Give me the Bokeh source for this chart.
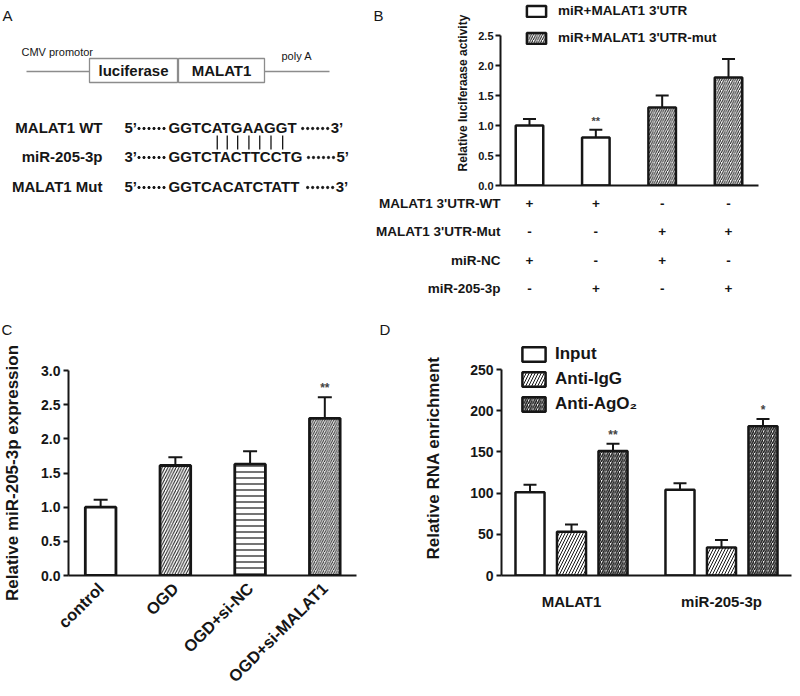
import math
from bokeh.plotting import figure
from bokeh.models import (ColumnDataSource, Range1d, Legend, LegendItem, Whisker, TeeHead,
                          FixedTicker, NumeralTickFormatter)
from bokeh.layouts import column, row
from bokeh.embed import file_html
from bokeh.resources import INLINE
from bokeh.core.properties import value

FONT = "Liberation Sans"
INK = "#161616"

# ---------------- data ----------------
# A: reporter construct and binding site
construct_parts = ["luciferase", "MALAT1"]
seq_names = ["MALAT1 WT", "miR-205-3p", "MALAT1 Mut"]
seq_head = ["5’", "3’", "5’"]
seq_core = ["GGTCATGAAGGT", "GGTCTACTTCCTG", "GGTCACATCTATT"]
seq_tail = ["3’", "5’", "3’"]
paired_positions = [5, 6, 7, 8, 9, 10, 11]   # 1-based positions of paired bases

# B: luciferase reporter assay
b_reporter = ["miR+MALAT1 3'UTR", "miR+MALAT1 3'UTR",
              "miR+MALAT1 3'UTR-mut", "miR+MALAT1 3'UTR-mut"]
b_mean = [1.00, 0.80, 1.30, 1.80]
b_sd = [0.11, 0.13, 0.20, 0.31]
b_sig = ["", "**", "", ""]
b_yticks = [0.0, 0.5, 1.0, 1.5, 2.0, 2.5]
b_rows = ["MALAT1 3'UTR-WT", "MALAT1 3'UTR-Mut", "miR-NC", "miR-205-3p"]
b_row_wt = ["+", "+", "-", "-"]
b_row_mut = ["-", "-", "+", "+"]
b_row_nc = ["+", "-", "+", "-"]
b_row_mir = ["-", "+", "-", "+"]

# C: miR-205-3p expression
c_groups = ["control", "OGD", "OGD+si-NC", "OGD+si-MALAT1"]
c_mean = [1.00, 1.61, 1.63, 2.30]
c_sd = [0.11, 0.12, 0.19, 0.31]
c_sig = ["", "", "", "**"]
c_yticks = [0.0, 0.5, 1.0, 1.5, 2.0, 2.5, 3.0]

# D: RIP assay
d_targets = ["MALAT1", "miR-205-3p"]
d_series = ["Input", "Anti-IgG", "Anti-AgO₂"]
d_input = [101, 104]
d_input_sd = [9, 8]
d_igg = [53, 34]
d_igg_sd = [9, 9]
d_ago2 = [151, 181]
d_ago2_sd = [9, 9]
d_ago2_sig = ["**", "*"]
d_yticks = [0, 50, 100, 150, 200, 250]

panel_letters = ["A", "B", "C", "D"]

# ---------------- helpers ----------------
def style_axes(p, tick_size, label_size):
    for ax in p.axis:
        ax.axis_line_width = 2
        ax.axis_line_color = INK
        ax.major_tick_line_width = 2
        ax.major_tick_line_color = INK
        ax.major_tick_out = 5
        ax.major_tick_in = 0
        ax.minor_tick_line_color = None
        ax.major_label_text_font = FONT
        ax.major_label_text_font_style = "bold"
        ax.major_label_text_font_size = tick_size
        ax.major_label_text_color = INK
        ax.axis_label_text_font = FONT
        ax.axis_label_text_font_style = "bold"
        ax.axis_label_text_font_size = label_size
        ax.axis_label_text_color = INK
    p.grid.visible = False
    p.outline_line_color = None


def add_errors(p, xs, means, sds, head):
    src = ColumnDataSource(dict(x=xs, lower=means, upper=[m + s for m, s in zip(means, sds)]))
    w = Whisker(source=src, base="x", lower="lower", upper="upper", dimension="height",
                line_color=INK, line_width=2, lower_head=None,
                upper_head=TeeHead(size=head, line_width=2, line_color=INK))
    p.add_layout(w)


def add_stars(p, xs, means, sds, sig, off, size):
    p.text(x=xs, y=[m + s + off for m, s in zip(means, sds)], text=sig,
           text_align="center", text_baseline="middle", text_font=value(FONT),
           text_font_style="bold", text_font_size=size, text_color="#444444")


def put_text(p, x, y, text, size, align="left", baseline="middle", style="bold", **kw):
    p.text(x=x, y=y, text=text, text_align=align, text_baseline=baseline,
           text_font=value(FONT), text_font_style=style, text_font_size=size,
           text_color=INK, **kw)


def blank_fig(w, h, xr, yr):
    return figure(width=w, height=h, x_range=xr, y_range=yr, output_backend="svg",
                  toolbar_location=None, x_axis_type=None, y_axis_type=None,
                  min_border=0, outline_line_color=None)

XOFF = 4   # horizontal trim of the left page edge

# ---------------- panel A (schematic, pixel coordinates) ----------------
A_RIGHT, A_H = 392, 194
A_W = A_RIGHT - XOFF
pa = blank_fig(A_W, A_H, Range1d(XOFF, A_RIGHT), Range1d(A_H, 0))
put_text(pa, [6, 377], [6, 6], panel_letters[:2], "15px", baseline="top", style="normal")
pa.segment(x0=[30], y0=[71], x1=[333], y1=[71], line_color="#8c8c8c", line_width=1.3)
pa.quad(left=[93, 182], right=[181, 268], top=[58, 58], bottom=[82, 82],
        fill_color="white", line_color="#8c8c8c", line_width=1.3)
put_text(pa, [137, 225], [70, 70], construct_parts, "15px", align="center")
put_text(pa, [25], [51], ["CMV promotor"], "11px", style="normal")
put_text(pa, [285], [55], ["poly A"], "11px", style="normal")

W_BOLD = {"G": 0.778, "T": 0.611, "C": 0.722, "A": 0.722}
FS = 15
row_y = [127, 156, 186]
SEQ_X = 172
put_text(pa, [106] * 3, row_y, seq_names, "15px", align="right")
put_text(pa, [128] * 3, row_y, seq_head, "15px")
put_text(pa, [SEQ_X] * 3, row_y, seq_core, "15px")
ends = [SEQ_X + sum(W_BOLD[c] for c in s) * FS for s in seq_core]
put_text(pa, [e + 33 for e in ends], row_y, seq_tail, "15px")
dx, dy = [], []
for e, yv in zip(ends, row_y):
    for i in range(6):
        dx += [142.5 + 5 * i, e + 5 + 5 * i]
        dy += [yv + 1, yv + 1]
pa.scatter(x=dx, y=dy, size=2.3, color=INK)
wt = seq_core[0]
bar_x = [SEQ_X + (sum(W_BOLD[c] for c in wt[:k - 1]) + W_BOLD[wt[k - 1]] / 2) * FS
         for k in paired_positions]
pa.segment(x0=bar_x, y0=[135] * len(bar_x), x1=bar_x, y1=[149] * len(bar_x),
           line_color=INK, line_width=1.3)

# ---------------- panel B chart ----------------
B_W, B_H = 406, 194
B_L, B_R, B_T, B_B = 112, 36, 0, 9
b_x = [i + 1 for i in range(len(b_mean))]
bx_range = Range1d(0.563, 4.452)
pb = figure(width=B_W, height=B_H, x_range=bx_range,
            y_range=Range1d(0, (B_H - B_T - B_B) / 60.0),
            output_backend="svg", toolbar_location=None,
            min_border_left=B_L, min_border_right=B_R, min_border_top=B_T, min_border_bottom=B_B)
b_style = {"miR+MALAT1 3'UTR": dict(),
           "miR+MALAT1 3'UTR-mut": dict(hatch_pattern="/", hatch_scale=4.5, hatch_weight=1.0,
                                        hatch_color=INK)}
b_items = []
for name in ["miR+MALAT1 3'UTR", "miR+MALAT1 3'UTR-mut"]:
    idx = [i for i, s in enumerate(b_reporter) if s == name]
    src = ColumnDataSource(dict(x=[b_x[i] for i in idx], top=[b_mean[i] for i in idx]))
    r = pb.vbar(x="x", top="top", bottom=0, width=0.415, source=src, fill_color="white",
                line_color=INK, line_width=2.5, **b_style[name])
    b_items.append(LegendItem(label=name, renderers=[r]))
add_errors(pb, b_x, b_mean, b_sd, 13)
add_stars(pb, b_x, b_mean, b_sd, b_sig, 0.15, "11px")
style_axes(pb, "11px", "12px")
pb.yaxis.ticker = FixedTicker(ticks=b_yticks)
pb.yaxis.bounds = (0, 2.5)
pb.yaxis.formatter = NumeralTickFormatter(format="0.0")
pb.yaxis.axis_label = "Relative luciferaase activity"
pb.yaxis.axis_label_standoff = 5
pb.yaxis.major_label_standoff = 2
pb.xaxis.ticker = FixedTicker(ticks=[])
pb.xaxis.major_label_text_font_size = "0px"
leg_b = Legend(items=b_items, location=(24, 140), orientation="vertical",
               glyph_width=24, glyph_height=14, label_height=14, label_standoff=10,
               spacing=12, padding=0, margin=0, border_line_alpha=0,
               background_fill_alpha=0, label_text_font=FONT,
               label_text_font_style="bold", label_text_font_size="13.5px",
               label_text_color=INK)
pb.add_layout(leg_b)

# ---------------- panel B table (+ letters C, D) ----------------
T_W, T_H, T_Y0 = A_W + B_W, 142, A_H
ROW_Y0, ROW_STEP = 203, 28.3
px_unit = (B_W - B_L - B_R) / (bx_range.end - bx_range.start)
tx0 = bx_range.start - (A_W + B_L) / px_unit
tx1 = bx_range.end + B_R / px_unit
pt = blank_fig(T_W, T_H, Range1d(tx0, tx1), Range1d(T_Y0 + T_H, T_Y0))
pt.extra_x_ranges = {"px": Range1d(XOFF, XOFF + T_W)}
row_pos = [ROW_Y0 + ROW_STEP * i for i in range(len(b_rows))]
put_text(pt, [bx_range.start] * len(b_rows), row_pos, b_rows, "13.5px", align="right")
sx, sy, st = [], [], []
for r_i, signs in enumerate([b_row_wt, b_row_mut, b_row_nc, b_row_mir]):
    for j, s in enumerate(signs):
        sx.append(b_x[j]); sy.append(row_pos[r_i]); st.append(s)
put_text(pt, sx, sy, st, "13.5px", align="center")
put_text(pt, [5, 383], [320, 320], panel_letters[2:], "15px", baseline="top",
         style="normal", x_range_name="px")

# ---------------- panel C ----------------
C_RIGHT, C_H = 380, 358
C_W = C_RIGHT - XOFF
C_L, C_R, C_T, C_B = 69 - XOFF, 20, 34, 119
c_x = [i + 1 for i in range(len(c_mean))]
pc = figure(width=C_W, height=C_H, x_range=Range1d(0.570, 4.424), y_range=Range1d(0, 3.0005),
            output_backend="svg", toolbar_location=None,
            min_border_left=C_L, min_border_right=C_R, min_border_top=C_T, min_border_bottom=C_B)
c_src = ColumnDataSource(dict(x=c_x, top=c_mean,
                              fill=["white", "white", "white", "#e2e2e2"],
                              hatch=[" ", "/", "-", "/"],
                              hscale=[6, 5.5, 6, 4.5],
                              hweight=[1, 1, 1.2, 0.9]))
pc.vbar(x="x", top="top", bottom=0, width=0.41, source=c_src, fill_color="fill",
        line_color=INK, line_width=2.8, hatch_pattern="hatch", hatch_scale="hscale",
        hatch_weight="hweight", hatch_color=INK)
add_errors(pc, c_x, c_mean, c_sd, 14)
add_stars(pc, c_x, c_mean, c_sd, c_sig, 0.14, "12px")
style_axes(pc, "14px", "17px")
pc.yaxis.ticker = FixedTicker(ticks=c_yticks)
pc.yaxis.bounds = (0, 3.0)
pc.yaxis.formatter = NumeralTickFormatter(format="0.0")
pc.yaxis.axis_label = "Relative miR-205-3p expression"
pc.yaxis.axis_label_standoff = 16
pc.yaxis.major_label_standoff = 3
pc.xaxis.ticker = FixedTicker(ticks=c_x)
pc.xaxis.major_label_overrides = {x: g for x, g in zip(c_x, c_groups)}
pc.xaxis.major_label_orientation = math.pi / 4
pc.xaxis.major_tick_line_color = None
pc.xaxis.major_tick_out = 0
pc.xaxis.major_label_text_font_size = "16.5px"
pc.xaxis.major_label_standoff = 10

# ---------------- panel D ----------------
D_W, D_H = 418, 358
D_L, D_R, D_T, D_B = 125, 3, 4, 119
GROUP_STEP = 3.614
d_frame_h = D_H - D_T - D_B
pd = figure(width=D_W, height=D_H, x_range=Range1d(-0.687, GROUP_STEP + 2 + 0.687),
            y_range=Range1d(0, d_frame_h * 250 / 206),
            output_backend="svg", toolbar_location=None,
            min_border_left=D_L, min_border_right=D_R, min_border_top=D_T, min_border_bottom=D_B)
d_style = [dict(),
           dict(hatch_pattern="/", hatch_scale=6, hatch_weight=1.0, hatch_color=INK),
           dict(hatch_pattern="/", hatch_scale=4.5, hatch_weight=1.5, hatch_color=INK)]
d_items = []
for s_i, (name, vals, sds) in enumerate(zip(d_series, [d_input, d_igg, d_ago2],
                                            [d_input_sd, d_igg_sd, d_ago2_sd])):
    xs = [g * GROUP_STEP + s_i for g in range(len(d_targets))]
    src = ColumnDataSource(dict(x=xs, top=vals))
    r = pd.vbar(x="x", top="top", bottom=0, width=0.70, source=src, fill_color="white",
                line_color=INK, line_width=2.5, **d_style[s_i])
    d_items.append(LegendItem(label=name, renderers=[r]))
    add_errors(pd, xs, vals, sds, 13)
    if name == "Anti-AgO₂":
        add_stars(pd, xs, vals, sds, d_ago2_sig, 11, "12px")
style_axes(pd, "14px", "17px")
pd.yaxis.ticker = FixedTicker(ticks=d_yticks)
pd.yaxis.bounds = (0, 250)
pd.yaxis.formatter = NumeralTickFormatter(format="0")
pd.yaxis.axis_label = "Relative RNA enrichment"
pd.yaxis.axis_label_standoff = 24
pd.yaxis.major_label_standoff = 3
d_centers = [g * GROUP_STEP + 1 for g in range(len(d_targets))]
pd.xaxis.ticker = FixedTicker(ticks=d_centers)
pd.xaxis.major_label_overrides = {c: t for c, t in zip(d_centers, d_targets)}
pd.xaxis.major_tick_line_color = None
pd.xaxis.major_label_text_font_size = "15px"
pd.xaxis.major_label_standoff = 12
leg_d = Legend(items=d_items, location=(18, 161), orientation="vertical",
               glyph_width=29, glyph_height=18, label_height=18, label_standoff=7,
               spacing=5, padding=0, margin=0, border_line_alpha=0,
               background_fill_alpha=0, label_text_font=FONT,
               label_text_font_style="bold", label_text_font_size="17px",
               label_text_color=INK)
pd.add_layout(leg_d)

layout = column(row(column(pa), column(pb)), column(pt), row(column(pc), column(pd)))
open("out.html", "w").write(file_html(layout, INLINE))
